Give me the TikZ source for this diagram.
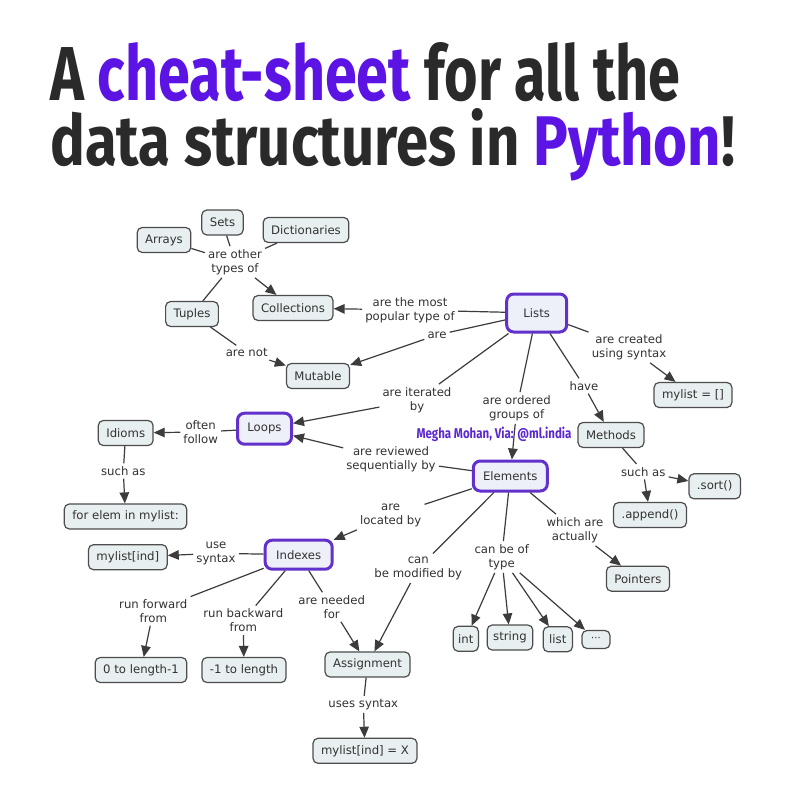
\documentclass[tikz,border=0pt]{standalone}
\usepackage{fontspec}
\setmainfont{DejaVu Sans}
\newfontfamily\titlefont{Fira Sans}
\usetikzlibrary{arrows.meta}
\definecolor{tpurple}{RGB}{92,20,228}
\definecolor{tdark}{RGB}{42,42,42}
\definecolor{nfill}{RGB}{232,239,240}
\definecolor{pfill}{RGB}{237,240,248}
\definecolor{nborder}{RGB}{77,77,77}
\definecolor{pborder}{RGB}{98,49,204}
\definecolor{lcol}{RGB}{60,60,60}
\definecolor{txt}{RGB}{50,50,50}
\definecolor{wmark}{RGB}{92,40,208}
\begin{document}
\begin{tikzpicture}[x=1pt,y=-1pt,
  every node/.style={font=\fontsize{11.7}{14}\selectfont, text=txt},
  concept/.style={draw=nborder, fill=nfill, rounded corners=5pt, line width=1.2pt, inner xsep=8pt, inner ysep=0pt, minimum height=25pt},
  keyc/.style={draw=pborder, fill=pfill, rounded corners=7pt, line width=3pt, inner sep=0pt},
  lbl/.style={align=center, inner sep=3pt},
  link/.style={draw=lcol, line width=1.2pt},
  arr/.style={link, -{Triangle[length=11pt,width=9.5pt]}}
]
\useasboundingbox (0,0) rectangle (807,808);
\fill[white] (0,0) rectangle (807,808);

% title
\node[anchor=base west, inner sep=0pt, text=tdark] (t1) at (50,100) {\resizebox{630pt}{58pt}{\titlefont\bfseries A \textcolor{tpurple}{cheat-sheet} for all the}};
\node[anchor=base west, inner sep=0pt, text=tdark] (t2) at (50,165) {\resizebox{685pt}{57pt}{\titlefont\bfseries data structures in \textcolor{tpurple}{Python}!}};

% watermark
\node[anchor=base, inner sep=0pt] (wm) at (494,438) {\resizebox{155pt}{11.5pt}{\titlefont\bfseries\color{wmark}Megha Mohan, Via: @ml.india}};

% concept nodes
\node[concept] (sets) at (222.5,222.5) {Sets};
\node[concept] (arrays) at (164,240) {Arrays};
\node[concept] (dicts) at (306,230) {Dictionaries};
\node[concept] (tuples) at (192,314) {Tuples};
\node[concept] (coll) at (293,308) {Collections};
\node[concept] (mut) at (318,376) {Mutable};
\node[concept] (newlist) at (693,395) {mylist = []};
\node[concept] (methods) at (611,435) {Methods};
\node[concept] (idioms) at (125.7,433) {Idioms};
\node[concept] (forelem) at (125.5,516.5) {for elem in mylist:};
\node[concept] (sort) at (714.7,486.3) {.sort()};
\node[concept] (append) at (650,515) {.append()};
\node[concept] (pointers) at (638,578.7) {Pointers};
\node[concept] (indsyn) at (127.8,557.2) {mylist[ind]};
\node[concept] (zero) at (141,670) {0 to length-1};
\node[concept] (minus) at (244,670) {-1 to length};
\node[concept] (assign) at (367.5,664.5) {Assignment};
\node[concept] (assignx) at (365,750.8) {mylist[ind] = X};
\node[concept, inner xsep=5pt] (int) at (465.8,638.8) {int};
\node[concept, inner xsep=6pt] (string) at (510,637.5) {string};
\node[concept, inner xsep=6pt] (list) at (557.8,639.3) {list};
\node[concept, minimum height=18pt, minimum width=28pt, inner xsep=3pt, font=\fontsize{10}{11}\selectfont] (dots) at (596,639.5) {···};

% key nodes
\node[keyc, minimum width=60pt, minimum height=38pt] (lists) at (536.7,313) {Lists};
\node[keyc, minimum width=54pt, minimum height=31pt] (loops) at (264.5,428.7) {Loops};
\node[keyc, minimum width=74pt, minimum height=30pt] (elements) at (510.3,476) {Elements};
\node[keyc, minimum width=67pt, minimum height=29pt] (indexes) at (298.7,554.7) {Indexes};

% labels
\node[lbl] (lother) at (235,262) {are other\\types of};
\node[lbl] (lnot) at (246.7,352.7) {are not};
\node[lbl] (lpop) at (410,310) {are the most\\popular type of};
\node[lbl] (lare) at (437,335) {are};
\node[lbl] (lcreated) at (629,347) {are created\\using syntax};
\node[lbl] (lhave) at (584,386) {have};
\node[lbl] (liter) at (417,400) {are iterated\\by};
\node[lbl] (lorder) at (516.7,408) {are ordered\\groups of};
\node[lbl] (loften) at (200.7,432) {often\\follow};
\node[lbl] (lsuch) at (123.3,471) {such as};
\node[lbl] (lrev) at (391,459.5) {are reviewed\\sequentially by};
\node[lbl] (lsuchm) at (643.3,471.7) {such as};
\node[lbl] (lloc) at (390.7,515.5) {are\\located by};
\node[lbl] (lact) at (575,530) {which are\\actually};
\node[lbl] (ltype) at (501.7,557) {can be of\\type};
\node[lbl] (lmod) at (418.3,568.3) {can\\be modified by};
\node[lbl] (luse) at (216,553.3) {use\\syntax};
\node[lbl] (lfwd) at (153.3,611) {run forward\\from};
\node[lbl] (lbwd) at (243.3,620.3) {run backward\\from};
\node[lbl] (lneed) at (331.7,607) {are needed\\for};
\node[lbl] (luses) at (363.3,704.3) {uses syntax};

% connectors
\draw[link] (arrays) -- (lother);
\draw[link] (sets) -- (lother);
\draw[link] (dicts) -- (lother);
\draw[link] (tuples) -- (lother);
\draw[arr] (lother) -- (coll);
\draw[link] (tuples) -- (lnot);
\draw[arr] (lnot) -- (mut);
\draw[link] (lists) -- (lpop);
\draw[arr] (lpop) -- (coll);
\draw[link] (lists) -- (lare);
\draw[arr] (lare) -- (mut);
\draw[link] (lists) -- (lcreated);
\draw[arr] (lcreated) -- (newlist);
\draw[link] (lists) -- (lhave);
\draw[arr] (lhave) -- (methods);
\draw[link] (lists) -- (liter);
\draw[arr] (liter) -- (loops);
\draw[link] (lists) -- (lorder);
\draw[arr] (lorder) -- (elements);
\draw[link] (loops) -- (loften);
\draw[arr] (loften) -- (idioms);
\draw[link] (idioms) -- (lsuch);
\draw[arr] (lsuch) -- (forelem);
\draw[link] (elements) -- (lrev);
\draw[arr] (lrev) -- (loops);
\draw[link] (methods) -- (lsuchm);
\draw[arr] (lsuchm) -- (sort);
\draw[arr] (lsuchm) -- (append);
\draw[link] (elements) -- (lloc);
\draw[arr] (lloc) -- (indexes);
\draw[link] (elements) -- (lact);
\draw[arr] (lact) -- (pointers);
\draw[link] (elements) -- (ltype);
\draw[arr] (ltype) -- (int);
\draw[arr] (ltype) -- (string);
\draw[arr] (ltype) -- (list);
\draw[arr] (ltype) -- (dots);
\draw[link] (elements) -- (lmod);
\draw[arr] (lmod) -- (assign);
\draw[link] (indexes) -- (luse);
\draw[arr] (luse) -- (indsyn);
\draw[link] (indexes) -- (lfwd);
\draw[arr] (lfwd) -- (zero);
\draw[link] (indexes) -- (lbwd);
\draw[arr] (lbwd) -- (minus);
\draw[link] (indexes) -- (lneed);
\draw[arr] (lneed) -- (assign);
\draw[link] (assign) -- (luses);
\draw[arr] (luses) -- (assignx);
\end{tikzpicture}
\end{document}
